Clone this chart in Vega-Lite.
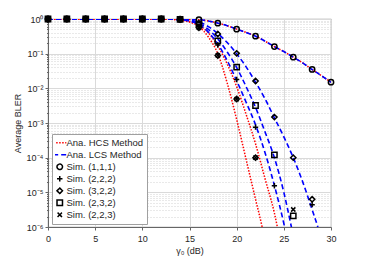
{
  "$schema": "https://vega.github.io/schema/vega-lite/v6.json",
  "width": 283,
  "height": 208,
  "autosize": {"type": "none"},
  "padding": {"left": 48, "top": 19, "right": 36, "bottom": 33},
  "background": "white",
  "config": {
    "font": "Liberation Sans",
    "view": {"stroke": "#666", "strokeWidth": 0.8},
    "axis": {"labelFont": "Liberation Sans", "titleFont": "Liberation Sans", "labelFontSize": 9, "titleFontSize": 9, "titleFontWeight": "normal", "labelColor": "#262626", "titleColor": "#262626", "domainColor": "#666", "tickColor": "#666", "gridColor": "#dadada", "gridWidth": 1}
  },
  "datasets": {
    "curves": [
      {"label": "Ana. HCS Method", "curve": "111", "x": 0, "y": 1}, {"label": "Ana. HCS Method", "curve": "111", "x": 4, "y": 1}, {"label": "Ana. HCS Method", "curve": "111", "x": 8, "y": 1}, {"label": "Ana. HCS Method", "curve": "111", "x": 12, "y": 0.999}, {"label": "Ana. HCS Method", "curve": "111", "x": 14, "y": 0.99}, {"label": "Ana. HCS Method", "curve": "111", "x": 15, "y": 0.98}, {"label": "Ana. HCS Method", "curve": "111", "x": 16, "y": 0.955}, {"label": "Ana. HCS Method", "curve": "111", "x": 17, "y": 0.88}, {"label": "Ana. HCS Method", "curve": "111", "x": 18, "y": 0.76}, {"label": "Ana. HCS Method", "curve": "111", "x": 19, "y": 0.64}, {"label": "Ana. HCS Method", "curve": "111", "x": 20, "y": 0.51}, {"label": "Ana. HCS Method", "curve": "111", "x": 21, "y": 0.41}, {"label": "Ana. HCS Method", "curve": "111", "x": 22, "y": 0.32}, {"label": "Ana. HCS Method", "curve": "111", "x": 23, "y": 0.23}, {"label": "Ana. HCS Method", "curve": "111", "x": 24, "y": 0.16}, {"label": "Ana. HCS Method", "curve": "111", "x": 25, "y": 0.115}, {"label": "Ana. HCS Method", "curve": "111", "x": 26, "y": 0.079}, {"label": "Ana. HCS Method", "curve": "111", "x": 27, "y": 0.054}, {"label": "Ana. HCS Method", "curve": "111", "x": 28, "y": 0.035}, {"label": "Ana. HCS Method", "curve": "111", "x": 29, "y": 0.023}, {"label": "Ana. HCS Method", "curve": "111", "x": 30, "y": 0.015},
      {"label": "Ana. HCS Method", "curve": "A", "x": 0, "y": 1}, {"label": "Ana. HCS Method", "curve": "A", "x": 4, "y": 1}, {"label": "Ana. HCS Method", "curve": "A", "x": 8, "y": 1}, {"label": "Ana. HCS Method", "curve": "A", "x": 12, "y": 0.9954}, {"label": "Ana. HCS Method", "curve": "A", "x": 13, "y": 0.977}, {"label": "Ana. HCS Method", "curve": "A", "x": 14, "y": 0.933}, {"label": "Ana. HCS Method", "curve": "A", "x": 15, "y": 0.813}, {"label": "Ana. HCS Method", "curve": "A", "x": 16, "y": 0.603}, {"label": "Ana. HCS Method", "curve": "A", "x": 17, "y": 0.302}, {"label": "Ana. HCS Method", "curve": "A", "x": 18, "y": 0.1}, {"label": "Ana. HCS Method", "curve": "A", "x": 19, "y": 0.0141}, {"label": "Ana. HCS Method", "curve": "A", "x": 20, "y": 0.00126}, {"label": "Ana. HCS Method", "curve": "A", "x": 21, "y": 0.000089}, {"label": "Ana. HCS Method", "curve": "A", "x": 22, "y": 0.0000063}, {"label": "Ana. HCS Method", "curve": "A", "x": 22.7, "y": 0.000001}, {"label": "Ana. HCS Method", "curve": "A", "x": 23, "y": 0.0000004},
      {"label": "Ana. HCS Method", "curve": "B", "x": 0, "y": 1}, {"label": "Ana. HCS Method", "curve": "B", "x": 4, "y": 1}, {"label": "Ana. HCS Method", "curve": "B", "x": 8, "y": 1}, {"label": "Ana. HCS Method", "curve": "B", "x": 12, "y": 0.9954}, {"label": "Ana. HCS Method", "curve": "B", "x": 13, "y": 0.982}, {"label": "Ana. HCS Method", "curve": "B", "x": 14, "y": 0.944}, {"label": "Ana. HCS Method", "curve": "B", "x": 15, "y": 0.851}, {"label": "Ana. HCS Method", "curve": "B", "x": 16, "y": 0.661}, {"label": "Ana. HCS Method", "curve": "B", "x": 17, "y": 0.398}, {"label": "Ana. HCS Method", "curve": "B", "x": 18, "y": 0.166}, {"label": "Ana. HCS Method", "curve": "B", "x": 19, "y": 0.0501}, {"label": "Ana. HCS Method", "curve": "B", "x": 20, "y": 0.0112}, {"label": "Ana. HCS Method", "curve": "B", "x": 21, "y": 0.00178}, {"label": "Ana. HCS Method", "curve": "B", "x": 22, "y": 0.000251}, {"label": "Ana. HCS Method", "curve": "B", "x": 23, "y": 0.0000251}, {"label": "Ana. HCS Method", "curve": "B", "x": 24, "y": 0.00000251}, {"label": "Ana. HCS Method", "curve": "B", "x": 24.6, "y": 0.0000004},
      {"label": "Ana. LCS Method", "curve": "111", "x": 0, "y": 1}, {"label": "Ana. LCS Method", "curve": "111", "x": 4, "y": 1}, {"label": "Ana. LCS Method", "curve": "111", "x": 8, "y": 1}, {"label": "Ana. LCS Method", "curve": "111", "x": 12, "y": 0.999}, {"label": "Ana. LCS Method", "curve": "111", "x": 14, "y": 0.99}, {"label": "Ana. LCS Method", "curve": "111", "x": 15, "y": 0.98}, {"label": "Ana. LCS Method", "curve": "111", "x": 16, "y": 0.955}, {"label": "Ana. LCS Method", "curve": "111", "x": 17, "y": 0.88}, {"label": "Ana. LCS Method", "curve": "111", "x": 18, "y": 0.76}, {"label": "Ana. LCS Method", "curve": "111", "x": 19, "y": 0.64}, {"label": "Ana. LCS Method", "curve": "111", "x": 20, "y": 0.51}, {"label": "Ana. LCS Method", "curve": "111", "x": 21, "y": 0.41}, {"label": "Ana. LCS Method", "curve": "111", "x": 22, "y": 0.32}, {"label": "Ana. LCS Method", "curve": "111", "x": 23, "y": 0.23}, {"label": "Ana. LCS Method", "curve": "111", "x": 24, "y": 0.16}, {"label": "Ana. LCS Method", "curve": "111", "x": 25, "y": 0.115}, {"label": "Ana. LCS Method", "curve": "111", "x": 26, "y": 0.079}, {"label": "Ana. LCS Method", "curve": "111", "x": 27, "y": 0.054}, {"label": "Ana. LCS Method", "curve": "111", "x": 28, "y": 0.035}, {"label": "Ana. LCS Method", "curve": "111", "x": 29, "y": 0.023}, {"label": "Ana. LCS Method", "curve": "111", "x": 30, "y": 0.015},
      {"label": "Ana. LCS Method", "curve": "P", "x": 0, "y": 1}, {"label": "Ana. LCS Method", "curve": "P", "x": 4, "y": 1}, {"label": "Ana. LCS Method", "curve": "P", "x": 8, "y": 1}, {"label": "Ana. LCS Method", "curve": "P", "x": 12, "y": 0.9954}, {"label": "Ana. LCS Method", "curve": "P", "x": 14, "y": 0.955}, {"label": "Ana. LCS Method", "curve": "P", "x": 15, "y": 0.871}, {"label": "Ana. LCS Method", "curve": "P", "x": 16, "y": 0.692}, {"label": "Ana. LCS Method", "curve": "P", "x": 17, "y": 0.417}, {"label": "Ana. LCS Method", "curve": "P", "x": 18, "y": 0.191}, {"label": "Ana. LCS Method", "curve": "P", "x": 19, "y": 0.0631}, {"label": "Ana. LCS Method", "curve": "P", "x": 20, "y": 0.0166}, {"label": "Ana. LCS Method", "curve": "P", "x": 21, "y": 0.00398}, {"label": "Ana. LCS Method", "curve": "P", "x": 22, "y": 0.00089}, {"label": "Ana. LCS Method", "curve": "P", "x": 23, "y": 0.000141}, {"label": "Ana. LCS Method", "curve": "P", "x": 24, "y": 0.0000158}, {"label": "Ana. LCS Method", "curve": "P", "x": 25, "y": 0.00000126}, {"label": "Ana. LCS Method", "curve": "P", "x": 25.4, "y": 0.0000004},
      {"label": "Ana. LCS Method", "curve": "C", "x": 0, "y": 1}, {"label": "Ana. LCS Method", "curve": "C", "x": 4, "y": 1}, {"label": "Ana. LCS Method", "curve": "C", "x": 8, "y": 1}, {"label": "Ana. LCS Method", "curve": "C", "x": 12, "y": 0.997}, {"label": "Ana. LCS Method", "curve": "C", "x": 14, "y": 0.966}, {"label": "Ana. LCS Method", "curve": "C", "x": 16, "y": 0.741}, {"label": "Ana. LCS Method", "curve": "C", "x": 17, "y": 0.501}, {"label": "Ana. LCS Method", "curve": "C", "x": 18, "y": 0.263}, {"label": "Ana. LCS Method", "curve": "C", "x": 19, "y": 0.112}, {"label": "Ana. LCS Method", "curve": "C", "x": 20, "y": 0.0398}, {"label": "Ana. LCS Method", "curve": "C", "x": 21, "y": 0.0112}, {"label": "Ana. LCS Method", "curve": "C", "x": 22, "y": 0.00282}, {"label": "Ana. LCS Method", "curve": "C", "x": 23, "y": 0.000562}, {"label": "Ana. LCS Method", "curve": "C", "x": 24, "y": 0.0001}, {"label": "Ana. LCS Method", "curve": "C", "x": 25, "y": 0.00001}, {"label": "Ana. LCS Method", "curve": "C", "x": 25.8, "y": 0.000001}, {"label": "Ana. LCS Method", "curve": "C", "x": 26.1, "y": 0.0000004},
      {"label": "Ana. LCS Method", "curve": "D", "x": 0, "y": 1}, {"label": "Ana. LCS Method", "curve": "D", "x": 4, "y": 1}, {"label": "Ana. LCS Method", "curve": "D", "x": 8, "y": 1}, {"label": "Ana. LCS Method", "curve": "D", "x": 12, "y": 0.998}, {"label": "Ana. LCS Method", "curve": "D", "x": 14, "y": 0.977}, {"label": "Ana. LCS Method", "curve": "D", "x": 16, "y": 0.813}, {"label": "Ana. LCS Method", "curve": "D", "x": 17, "y": 0.603}, {"label": "Ana. LCS Method", "curve": "D", "x": 18, "y": 0.38}, {"label": "Ana. LCS Method", "curve": "D", "x": 19, "y": 0.209}, {"label": "Ana. LCS Method", "curve": "D", "x": 20, "y": 0.1}, {"label": "Ana. LCS Method", "curve": "D", "x": 21, "y": 0.0417}, {"label": "Ana. LCS Method", "curve": "D", "x": 22, "y": 0.0151}, {"label": "Ana. LCS Method", "curve": "D", "x": 23, "y": 0.00501}, {"label": "Ana. LCS Method", "curve": "D", "x": 24, "y": 0.00141}, {"label": "Ana. LCS Method", "curve": "D", "x": 25, "y": 0.000398}, {"label": "Ana. LCS Method", "curve": "D", "x": 26, "y": 0.0001}, {"label": "Ana. LCS Method", "curve": "D", "x": 27, "y": 0.00002}, {"label": "Ana. LCS Method", "curve": "D", "x": 28, "y": 0.00000316}, {"label": "Ana. LCS Method", "curve": "D", "x": 28.6, "y": 0.000001}, {"label": "Ana. LCS Method", "curve": "D", "x": 29, "y": 0.0000004}
    ],
    "sims": [
      {"label": "Sim. (1,1,1)", "x": 0, "y": 1}, {"label": "Sim. (1,1,1)", "x": 2, "y": 1}, {"label": "Sim. (1,1,1)", "x": 4, "y": 1}, {"label": "Sim. (1,1,1)", "x": 6, "y": 1}, {"label": "Sim. (1,1,1)", "x": 8, "y": 1}, {"label": "Sim. (1,1,1)", "x": 10, "y": 1}, {"label": "Sim. (1,1,1)", "x": 12, "y": 1}, {"label": "Sim. (1,1,1)", "x": 14, "y": 0.99}, {"label": "Sim. (1,1,1)", "x": 16, "y": 0.955}, {"label": "Sim. (1,1,1)", "x": 18, "y": 0.76}, {"label": "Sim. (1,1,1)", "x": 20, "y": 0.51}, {"label": "Sim. (1,1,1)", "x": 22, "y": 0.32}, {"label": "Sim. (1,1,1)", "x": 24, "y": 0.16}, {"label": "Sim. (1,1,1)", "x": 26, "y": 0.079}, {"label": "Sim. (1,1,1)", "x": 28, "y": 0.035}, {"label": "Sim. (1,1,1)", "x": 30, "y": 0.015},
      {"label": "Sim. (2,2,2)", "x": 0, "y": 1}, {"label": "Sim. (2,2,2)", "x": 2, "y": 1}, {"label": "Sim. (2,2,2)", "x": 4, "y": 1}, {"label": "Sim. (2,2,2)", "x": 6, "y": 1}, {"label": "Sim. (2,2,2)", "x": 8, "y": 1}, {"label": "Sim. (2,2,2)", "x": 10, "y": 1}, {"label": "Sim. (2,2,2)", "x": 12, "y": 1}, {"label": "Sim. (2,2,2)", "x": 14, "y": 0.96}, {"label": "Sim. (2,2,2)", "x": 16, "y": 0.63}, {"label": "Sim. (2,2,2)", "x": 18, "y": 0.178}, {"label": "Sim. (2,2,2)", "x": 20, "y": 0.018}, {"label": "Sim. (2,2,2)", "x": 22, "y": 0.00076}, {"label": "Sim. (2,2,2)", "x": 24, "y": 0.0000155}, {"label": "Sim. (2,2,2)", "x": 28, "y": 0.0000044},
      {"label": "Sim. (3,2,2)", "x": 0, "y": 1}, {"label": "Sim. (3,2,2)", "x": 2, "y": 1}, {"label": "Sim. (3,2,2)", "x": 4, "y": 1}, {"label": "Sim. (3,2,2)", "x": 6, "y": 1}, {"label": "Sim. (3,2,2)", "x": 8, "y": 1}, {"label": "Sim. (3,2,2)", "x": 10, "y": 1}, {"label": "Sim. (3,2,2)", "x": 12, "y": 1}, {"label": "Sim. (3,2,2)", "x": 14, "y": 0.97}, {"label": "Sim. (3,2,2)", "x": 16, "y": 0.76}, {"label": "Sim. (3,2,2)", "x": 18, "y": 0.37}, {"label": "Sim. (3,2,2)", "x": 20, "y": 0.102}, {"label": "Sim. (3,2,2)", "x": 22, "y": 0.0162}, {"label": "Sim. (3,2,2)", "x": 24, "y": 0.00148}, {"label": "Sim. (3,2,2)", "x": 26, "y": 0.0001}, {"label": "Sim. (3,2,2)", "x": 28, "y": 0.0000063},
      {"label": "Sim. (3,2,2)", "x": 16, "y": 0.56}, {"label": "Sim. (3,2,2)", "x": 18, "y": 0.089}, {"label": "Sim. (3,2,2)", "x": 20, "y": 0.0049}, {"label": "Sim. (3,2,2)", "x": 22, "y": 0.0001},
      {"label": "Sim. (2,3,2)", "x": 0, "y": 1}, {"label": "Sim. (2,3,2)", "x": 2, "y": 1}, {"label": "Sim. (2,3,2)", "x": 4, "y": 1}, {"label": "Sim. (2,3,2)", "x": 6, "y": 1}, {"label": "Sim. (2,3,2)", "x": 8, "y": 1}, {"label": "Sim. (2,3,2)", "x": 10, "y": 1}, {"label": "Sim. (2,3,2)", "x": 12, "y": 1}, {"label": "Sim. (2,3,2)", "x": 14, "y": 0.97}, {"label": "Sim. (2,3,2)", "x": 16, "y": 0.71}, {"label": "Sim. (2,3,2)", "x": 18, "y": 0.234}, {"label": "Sim. (2,3,2)", "x": 20, "y": 0.041}, {"label": "Sim. (2,3,2)", "x": 22, "y": 0.0032}, {"label": "Sim. (2,3,2)", "x": 24, "y": 0.00012}, {"label": "Sim. (2,3,2)", "x": 26, "y": 0.0000021},
      {"label": "Sim. (2,2,3)", "x": 0, "y": 1}, {"label": "Sim. (2,2,3)", "x": 2, "y": 1}, {"label": "Sim. (2,2,3)", "x": 4, "y": 1}, {"label": "Sim. (2,2,3)", "x": 6, "y": 1}, {"label": "Sim. (2,2,3)", "x": 8, "y": 1}, {"label": "Sim. (2,2,3)", "x": 10, "y": 1}, {"label": "Sim. (2,2,3)", "x": 12, "y": 1}, {"label": "Sim. (2,2,3)", "x": 14, "y": 0.95}, {"label": "Sim. (2,2,3)", "x": 16, "y": 0.56}, {"label": "Sim. (2,2,3)", "x": 18, "y": 0.089}, {"label": "Sim. (2,2,3)", "x": 20, "y": 0.0049}, {"label": "Sim. (2,2,3)", "x": 22, "y": 0.0001}, {"label": "Sim. (2,2,3)", "x": 26, "y": 0.0000032}
    ]
  },
  "encoding": {
    "x": {"field": "x", "type": "quantitative", "scale": {"domain": [0, 30], "nice": false},
      "axis": {"values": [0, 5, 10, 15, 20, 25, 30], "grid": true, "title": "γ₀ (dB)", "labelPadding": 4, "titlePadding": 3, "tickSize": 3, "labelFlush": false}},
    "y": {"field": "y", "type": "quantitative", "scale": {"type": "log", "domain": [0.000001, 1], "nice": false},
      "axis": {"values": [0.000001,0.000002,0.000003,0.000004,0.000005,0.000006,0.000007,0.000008,0.000009,0.00001,0.00002,0.00003,0.00004,0.00005,0.00006,0.00007,0.00008,0.00009,0.0001,0.0002,0.0003,0.0004,0.0005,0.0006,0.0007,0.0008,0.0009,0.001,0.002,0.003,0.004,0.005,0.006,0.007,0.008,0.009,0.01,0.02,0.03,0.04,0.05,0.06,0.07,0.08,0.09,0.1,0.2,0.3,0.4,0.5,0.6,0.7,0.8,0.9,1],
        "grid": true, "title": "Average BLER", "titleX": -26, "labelPadding": 2,
        "labelExpr": "abs(log(datum.value)/LN10 - round(log(datum.value)/LN10)) < 0.001 ? '10' + ['⁰','⁻¹','⁻²','⁻³','⁻⁴','⁻⁵','⁻⁶'][round(-log(datum.value)/LN10)] : ''",
        "gridDash": {"condition": {"test": "abs(log(datum.value)/LN10 - round(log(datum.value)/LN10)) < 0.001", "value": []}, "value": [1, 2]},
        "gridColor": {"condition": {"test": "abs(log(datum.value)/LN10 - round(log(datum.value)/LN10)) < 0.001", "value": "#dadada"}, "value": "#d2d2d2"},
        "tickSize": {"condition": {"test": "abs(log(datum.value)/LN10 - round(log(datum.value)/LN10)) < 0.001", "value": 3}, "value": 1.5}}}
  },
  "layer": [
    {
      "data": {"name": "curves"},
      "transform": [{"filter": "datum.label == 'Ana. HCS Method'"}],
      "mark": {"type": "line", "interpolate": "monotone", "clip": true, "strokeWidth": 1.5},
      "encoding": {
        "detail": {"field": "curve"},
        "color": {"field": "label", "type": "nominal", "scale": {"domain": ["Ana. HCS Method", "Ana. LCS Method", "Sim. (1,1,1)", "Sim. (2,2,2)", "Sim. (3,2,2)", "Sim. (2,3,2)", "Sim. (2,2,3)"], "range": ["#ff0000", "#0000ff", "#000000", "#000000", "#000000", "#000000", "#000000"]}, "legend": {"title": null, "orient": "none", "legendX": 4, "legendY": 115, "fillColor": "white", "strokeColor": "#a0a0a0", "padding": 3, "labelFontSize": 9.5, "labelFont": "Liberation Sans", "labelColor": "#262626", "symbolSize": 30, "symbolStrokeWidth": 1.5, "rowPadding": 0, "clipHeight": 11.6, "labelOffset": 2}},
        "strokeDash": {"field": "label", "type": "nominal", "scale": {"domain": ["Ana. HCS Method", "Ana. LCS Method", "Sim. (1,1,1)", "Sim. (2,2,2)", "Sim. (3,2,2)", "Sim. (2,3,2)", "Sim. (2,2,3)"], "range": [[1.5, 1.5], [5, 3], [1, 0], [1, 0], [1, 0], [1, 0], [1, 0]]}}
      }
    },
    {
      "data": {"name": "curves"},
      "transform": [{"filter": "datum.label == 'Ana. LCS Method'"}],
      "mark": {"type": "line", "interpolate": "monotone", "clip": true, "strokeWidth": 1.6},
      "encoding": {
        "detail": {"field": "curve"},
        "color": {"field": "label", "type": "nominal"},
        "strokeDash": {"field": "label", "type": "nominal"}
      }
    },
    {
      "data": {"name": "sims"},
      "mark": {"type": "point", "filled": false, "strokeWidth": 1.5, "size": 28, "opacity": 1},
      "encoding": {
        "color": {"field": "label", "type": "nominal"},
        "shape": {"field": "label", "type": "nominal", "scale": {"domain": ["Ana. HCS Method", "Ana. LCS Method", "Sim. (1,1,1)", "Sim. (2,2,2)", "Sim. (3,2,2)", "Sim. (2,3,2)", "Sim. (2,2,3)"], "range": ["M-2.4,0H2.4", "M-2.4,0H2.4", "circle", "M-1,0H1M0,-1V1", "diamond", "square", "M-0.8,-0.8L0.8,0.8M-0.8,0.8L0.8,-0.8"]}}
      }
    }
  ]
}
